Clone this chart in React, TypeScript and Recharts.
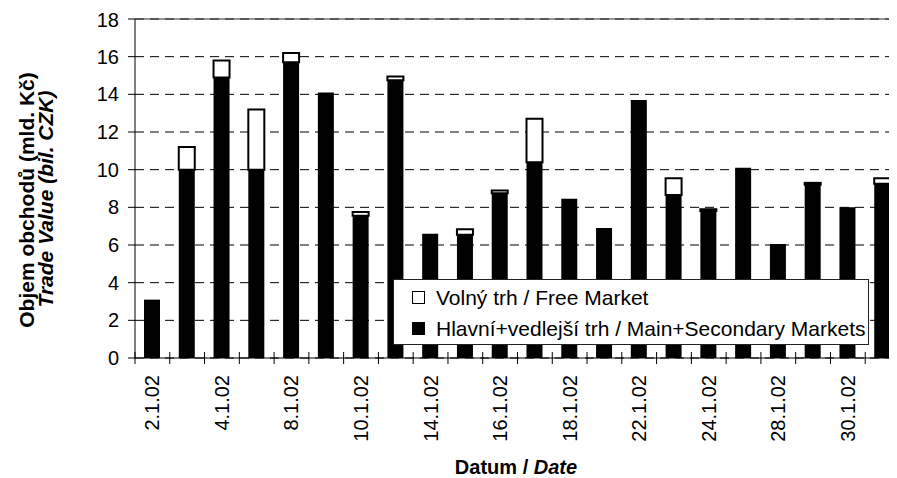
import { BarChart, Bar, XAxis, YAxis, CartesianGrid, Legend, ReferenceLine, Label } from "recharts";

const dates = [
  "2.1.02", "3.1.02", "4.1.02", "7.1.02", "8.1.02", "9.1.02", "10.1.02", "11.1.02",
  "14.1.02", "15.1.02", "16.1.02", "17.1.02", "18.1.02", "21.1.02", "22.1.02",
  "23.1.02", "24.1.02", "25.1.02", "28.1.02", "29.1.02", "30.1.02", "31.1.02",
];
const mainMarkets = [
  3.1, 10.0, 14.9, 10.0, 15.7, 14.1, 7.55, 14.75, 6.6, 6.55, 8.75, 10.4, 8.45, 6.9,
  13.7, 8.65, 7.8, 10.1, 6.05, 9.2, 8.0, 9.25,
];
const freeMarket = [
  0, 1.2, 0.9, 3.2, 0.5, 0, 0.2, 0.2, 0, 0.28, 0.15, 2.3, 0, 0, 0, 0.9, 0.1, 0, 0, 0.1,
  0, 0.3,
];
const yTicks = [0, 2, 4, 6, 8, 10, 12, 14, 16, 18];

const data = dates.map((d, i) => ({ date: d, main: mainMarkets[i], free: freeMarket[i] }));

const FONT = "'Liberation Sans', Arial, sans-serif";

const DateTick = (props: any) => {
  const { x, y, payload, index } = props;
  const half = payload?.offset ?? 17.4;
  return (
    <g>
      <line x1={x - half} x2={x - half} y1={y - 6} y2={y + 6} stroke="#000" />
      {index % 2 === 0 && (
        <text
          x={x}
          y={y + 17}
          transform={`rotate(-90, ${x}, ${y + 17})`}
          textAnchor="end"
          dominantBaseline="central"
          fontSize={20}
          fontFamily={FONT}
          fill="#000"
        >
          {payload.value}
        </text>
      )}
    </g>
  );
};

const YTitle = () => (
  <g fontFamily={FONT} fontSize={21} fontWeight="bold" fill="#000">
    <text x={18} y={192} transform="rotate(-90, 18, 192)" textAnchor="middle" dominantBaseline="central">
      Objem obchodů (mld. Kč)
    </text>
    <text
      x={37}
      y={191}
      transform="rotate(-90, 37, 191)"
      textAnchor="middle"
      dominantBaseline="central"
      fontStyle="italic"
    >
      Trade Value (bil. CZK)
    </text>
  </g>
);

const XTitle = () => (
  <text x={508} y={466} textAnchor="middle" fontFamily={FONT} fontSize={20} fontWeight="bold" fill="#000">
    Datum / <tspan fontStyle="italic">Date</tspan>
  </text>
);

const legendItems = [
  { name: "Volný trh / Free Market", fill: "#fff" },
  { name: "Hlavní+vedlejší trh / Main+Secondary Markets", fill: "#000" },
];

const LegendBox = () => (
  <div
    style={{
      background: "#fff",
      border: "1px solid #222",
      width: 476,
      height: 66,
      boxSizing: "border-box",
      fontFamily: FONT,
      fontSize: 21,
      color: "#000",
      paddingTop: 2,
    }}
  >
    {legendItems.map((it) => (
      <div key={it.name} style={{ display: "flex", alignItems: "center", height: 31, whiteSpace: "nowrap" }}>
        <span
          style={{
            display: "inline-block",
            width: 11,
            height: 11,
            marginLeft: 18,
            marginRight: 11,
            background: it.fill,
            border: "1.5px solid #000",
          }}
        />
        {it.name}
      </div>
    ))}
  </div>
);

export default function App() {
  return (
    <div style={{ width: 889, overflow: "hidden" }}>
      <BarChart
        width={892}
        height={470}
        data={data}
        margin={{ top: 11, right: 0, bottom: 0, left: 0 }}
        barSize={16}
      >
        <CartesianGrid horizontal vertical={false} stroke="#000" strokeDasharray="9 6" />
        <ReferenceLine y={18} stroke="#333" strokeWidth={1.2} />
        <XAxis
          dataKey="date"
          interval={0}
          height={120}
          tickSize={0}
          tickMargin={0}
          tickLine={false}
          axisLine={{ stroke: "#000" }}
          tick={<DateTick />}
        >
          <Label content={() => <XTitle />} />
        </XAxis>
        <YAxis
          domain={[0, 18]}
          ticks={yTicks}
          width={127}
          tickSize={7}
          tickMargin={9}
          axisLine={{ stroke: "#000" }}
          tickLine={{ stroke: "#000" }}
          tick={{ fill: "#000", fontSize: 20, fontFamily: FONT }}
        >
          <Label content={() => <YTitle />} />
        </YAxis>
        <Legend
          layout="vertical"
          align="center"
          verticalAlign="middle"
          content={() => <LegendBox />}
          wrapperStyle={{ position: "absolute", left: 385, top: 271, width: 476, height: 66 }}
        />
        <Bar dataKey="main" stackId="a" fill="#000" isAnimationActive={false} />
        <Bar dataKey="free" stackId="a" fill="#fff" stroke="#000" strokeWidth={2} isAnimationActive={false} />
      </BarChart>
    </div>
  );
}
